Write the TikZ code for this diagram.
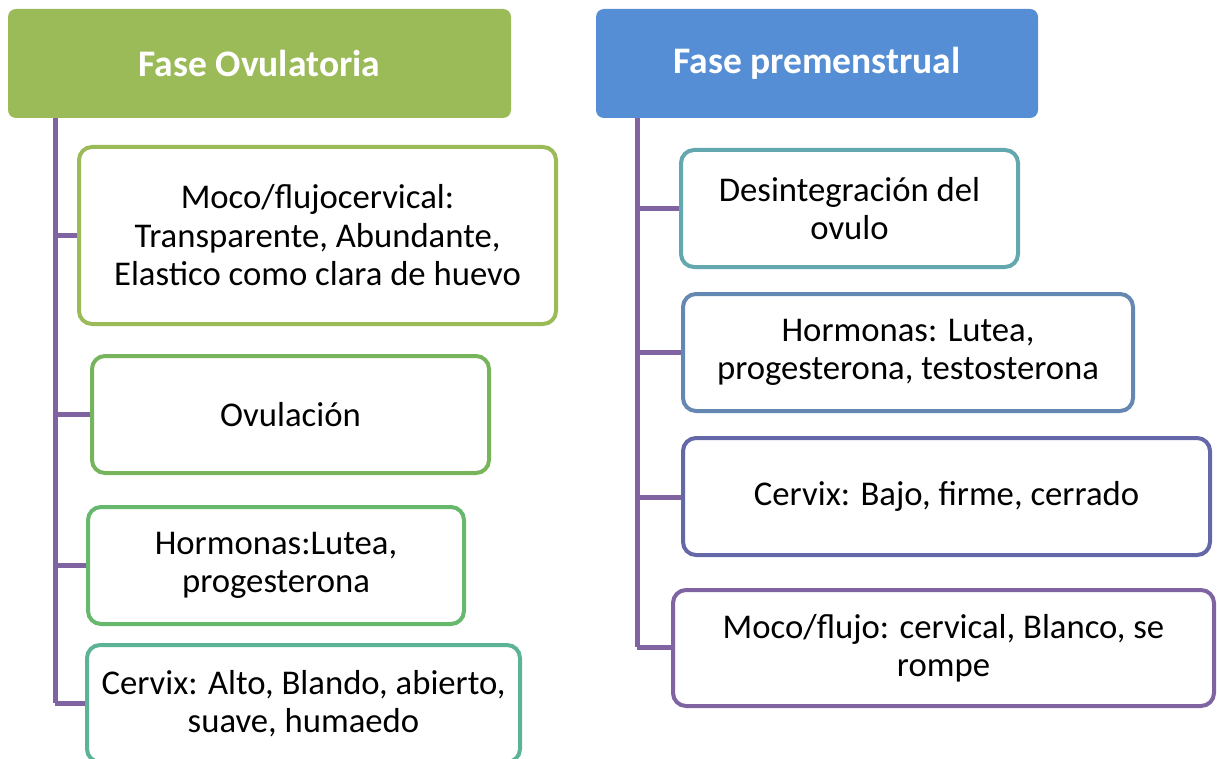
\documentclass[tikz,border=0pt]{standalone}
\usepackage{fontspec}
\setmainfont{Carlito}
\begin{document}
\begin{tikzpicture}[x=1pt,y=-1pt,
  title/.style={rectangle, rounded corners=8pt, inner sep=0pt, text=white,
    font=\fontsize{37.5}{44}\selectfont\bfseries},
  item/.style={rectangle, rounded corners=13pt, draw=#1, line width=4pt, fill=white,
    inner sep=0pt, align=center, font=\fontsize{34.7}{38.5}\selectfont},
  trunk/.style={draw=trunkc, line width=5pt},
]
\definecolor{trunkc}{HTML}{8064A2}
\definecolor{greenA}{HTML}{9BBB59}
\definecolor{blueA}{HTML}{558ED5}
\definecolor{c1}{HTML}{9BBB59}
\definecolor{c2}{HTML}{77B55C}
\definecolor{c3}{HTML}{66B86C}
\definecolor{c4}{HTML}{5DB395}
\definecolor{d1}{HTML}{62A8AE}
\definecolor{d2}{HTML}{6488B1}
\definecolor{d3}{HTML}{6467A8}
\definecolor{d4}{HTML}{8064A2}
\useasboundingbox (0,0) rectangle (1217,759);

% titles
\node[title, fill=greenA, minimum width=503pt, minimum height=109pt] (t1) at (259.5,63.5) {Fase Ovulatoria};
\node[title, fill=blueA, minimum width=442pt, minimum height=109pt] (t2) at (817,63.5) {Fase premenstrual};

% trunk coordinates
\coordinate (lt) at (55,118);
\coordinate (l1) at (55,236);
\coordinate (l2) at (55,414);
\coordinate (l3) at (55,565);
\coordinate (l4) at (55,703);
\coordinate (rt) at (637,118);
\coordinate (r1) at (637,209);
\coordinate (r2) at (637,352);
\coordinate (r3) at (637,497);
\coordinate (r4) at (637,647);

% left items
\node[item=c1, minimum width=477pt, minimum height=177pt] (a1) at (317.5,235.5)
  {Moco/flujocervical:\\Transparente, Abundante,\\Elastico como clara de huevo};
\node[item=c2, minimum width=397pt, minimum height=117pt] (a2) at (290.5,414.5) {Ovulación};
\node[item=c3, minimum width=376pt, minimum height=117pt] (a3) at (276,565.5) {Hormonas:Lutea,\\progesterona};
\node[item=c4, minimum width=433pt, minimum height=117pt] (a4) at (303.5,703.5) {Cervix: Alto, Blando, abierto,\\suave, humaedo};

% right items
\node[item=d1, minimum width=337pt, minimum height=117pt] (b1) at (849.5,208.5) {Desintegración del\\ovulo};
\node[item=d2, minimum width=450pt, minimum height=117pt] (b2) at (908,352.5) {Hormonas: Lutea,\\progesterona, testosterona};
\node[item=d3, minimum width=527pt, minimum height=117pt] (b3) at (946.5,496.5) {Cervix: Bajo, firme, cerrado};
\node[item=d4, minimum width=541pt, minimum height=116pt] (b4) at (943.5,648) {Moco/flujo: cervical, Blanco, se\\rompe};

% connectors
\draw[trunk] (t1.south -| lt) -- (l4);
\foreach \c/\n in {l1/a1,l2/a2,l3/a3,l4/a4} \draw[trunk] (\c) -- (\n.west |- \c);
\draw[trunk] (t2.south -| rt) -- (r4);
\foreach \c/\n in {r1/b1,r2/b2,r3/b3,r4/b4} \draw[trunk] (\c) -- (\n.west |- \c);
\end{tikzpicture}
\end{document}
